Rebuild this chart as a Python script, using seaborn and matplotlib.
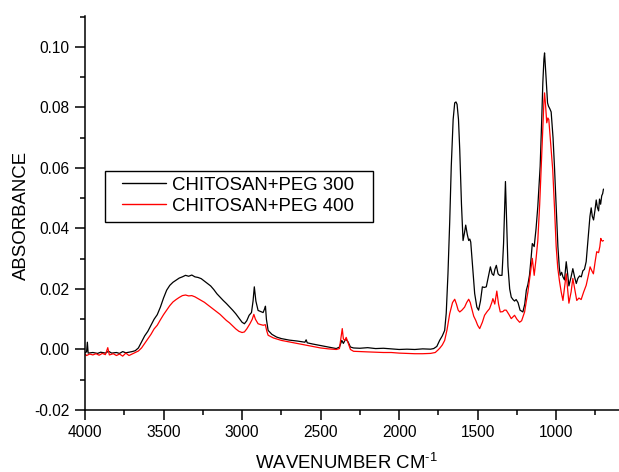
import matplotlib
matplotlib.use("Agg")
import matplotlib.pyplot as plt
import matplotlib.ticker as mticker
from matplotlib.patches import Rectangle
import seaborn as sns
import pandas as pd

# ---- data ----
wn_300 = [4000, 3990, 3985, 3980, 3950, 3920, 3900, 3870, 3850, 3830, 3800, 3780, 3760, 3740, 3720, 3700,
          3680, 3660, 3640, 3620, 3600, 3580, 3560, 3540, 3520, 3500, 3480, 3460, 3440, 3420, 3400, 3380,
          3360, 3340, 3320, 3300, 3280, 3260, 3240, 3220, 3200, 3180, 3160, 3140, 3120, 3100, 3080, 3060,
          3040, 3020, 3000, 2985, 2970, 2955, 2940, 2930, 2922, 2912, 2898, 2880, 2866, 2856, 2851, 2845,
          2834, 2810, 2780, 2750, 2700, 2650, 2600, 2592, 2585, 2550, 2500, 2450, 2400, 2380, 2365, 2355,
          2340, 2325, 2310, 2290, 2250, 2200, 2150, 2100, 2050, 2000, 1950, 1900, 1850, 1800, 1780, 1760,
          1742, 1725, 1710, 1700, 1689, 1678, 1668, 1656, 1646, 1638, 1631, 1622, 1614, 1603, 1593, 1584,
          1576, 1566, 1557, 1550, 1544, 1530, 1519, 1505, 1494, 1482, 1470, 1458, 1445, 1432, 1419, 1408,
          1398, 1390, 1381, 1370, 1360, 1345, 1335, 1323, 1315, 1307, 1296, 1286, 1275, 1265, 1255, 1243,
          1230, 1212, 1200, 1190, 1180, 1170, 1160, 1152, 1140, 1128, 1117, 1102, 1092, 1085, 1078, 1074,
          1068, 1064, 1055, 1049, 1040, 1032, 1020, 1011, 1000, 989, 980, 974, 965, 957, 947, 936,
          927, 919, 905, 894, 883, 872, 862, 851, 840, 830, 820, 809, 795, 785, 777, 770,
          762, 753, 745, 738, 730, 724, 717, 710, 704, 699]
abs_300 = [-0.0010, -0.0008, 0.0024, -0.0012, -0.0010, -0.0013, -0.0009, -0.0012, -0.0006, -0.0012, -0.0010, -0.0013, -0.0007, -0.0011, -0.0009, -0.0007,
           -0.0004, 0.0005, 0.0025, 0.0045, 0.0060, 0.0080, 0.0100, 0.0115, 0.0140, 0.0170, 0.0196, 0.0212, 0.0222, 0.0229, 0.0236, 0.0240,
           0.0245, 0.0242, 0.0246, 0.0240, 0.0238, 0.0234, 0.0226, 0.0218, 0.0210, 0.0198, 0.0184, 0.0173, 0.0162, 0.0152, 0.0141, 0.0130,
           0.0118, 0.0104, 0.0090, 0.0085, 0.0095, 0.0113, 0.0122, 0.0160, 0.0207, 0.0160, 0.0129, 0.0125, 0.0122, 0.0135, 0.0143, 0.0100,
           0.0063, 0.0050, 0.0041, 0.0036, 0.0031, 0.0028, 0.0024, 0.0032, 0.0022, 0.0018, 0.0013, 0.0008, 0.0003, 0.0008, 0.0030, 0.0020,
           0.0035, 0.0025, 0.0008, 0.0005, 0.0004, 0.0006, 0.0003, 0.0004, 0.0002, 0.0000, 0.0001, 0.0000, 0.0002, 0.0001, 0.0003, 0.0010,
           0.0030, 0.0045, 0.0063, 0.0120, 0.0250, 0.0420, 0.0605, 0.0760, 0.0815, 0.0818, 0.0810, 0.0760, 0.0660, 0.0480, 0.0360, 0.0385,
           0.0411, 0.0380, 0.0360, 0.0365, 0.0355, 0.0260, 0.0185, 0.0140, 0.0130, 0.0160, 0.0207, 0.0205, 0.0207, 0.0240, 0.0273, 0.0250,
           0.0245, 0.0265, 0.0278, 0.0250, 0.0245, 0.0245, 0.0350, 0.0555, 0.0420, 0.0275, 0.0200, 0.0173, 0.0165, 0.0160, 0.0165, 0.0155,
           0.0130, 0.0124, 0.0150, 0.0196, 0.0215, 0.0245, 0.0300, 0.0350, 0.0340, 0.0400, 0.0472, 0.0605, 0.0760, 0.0881, 0.0960, 0.0980,
           0.0930, 0.0895, 0.0815, 0.0804, 0.0795, 0.0785, 0.0700, 0.0605, 0.0470, 0.0340, 0.0270, 0.0245, 0.0255, 0.0240, 0.0230, 0.0290,
           0.0250, 0.0210, 0.0240, 0.0267, 0.0240, 0.0218, 0.0235, 0.0243, 0.0240, 0.0260, 0.0265, 0.0290, 0.0380, 0.0440, 0.0468, 0.0440,
           0.0428, 0.0460, 0.0494, 0.0470, 0.0458, 0.0497, 0.0480, 0.0508, 0.0515, 0.0530]

wn_400 = [4000, 3990, 3970, 3950, 3930, 3910, 3890, 3870, 3855, 3845, 3820, 3800, 3780, 3760, 3740, 3720,
          3700, 3680, 3660, 3640, 3620, 3600, 3580, 3560, 3540, 3520, 3500, 3480, 3460, 3440, 3420, 3400,
          3380, 3360, 3340, 3320, 3300, 3280, 3260, 3240, 3220, 3200, 3180, 3160, 3140, 3120, 3100, 3080,
          3060, 3040, 3020, 3000, 2985, 2970, 2950, 2935, 2925, 2915, 2898, 2880, 2865, 2852, 2842, 2834,
          2800, 2750, 2700, 2650, 2600, 2550, 2500, 2450, 2400, 2380, 2370, 2362, 2355, 2345, 2337, 2325,
          2310, 2290, 2250, 2200, 2150, 2100, 2050, 2000, 1950, 1900, 1850, 1800, 1770, 1753, 1740, 1725,
          1710, 1695, 1678, 1660, 1646, 1635, 1624, 1614, 1600, 1583, 1570, 1557, 1547, 1540, 1525, 1512,
          1500, 1487, 1470, 1456, 1440, 1424, 1410, 1403, 1391, 1378, 1367, 1356, 1340, 1330, 1318, 1300,
          1286, 1275, 1265, 1250, 1233, 1220, 1201, 1190, 1180, 1165, 1152, 1140, 1128, 1117, 1105, 1096,
          1085, 1078, 1074, 1068, 1060, 1053, 1047, 1035, 1022, 1010, 1000, 990, 979, 968, 957, 948,
          936, 927, 919, 905, 894, 882, 869, 855, 841, 825, 809, 795, 784, 773, 763, 752,
          742, 730, 722, 716, 710, 705, 699]
abs_400 = [-0.0015, -0.0020, -0.0015, -0.0018, -0.0014, -0.0019, -0.0013, -0.0017, 0.0006, -0.0018, -0.0014, -0.0020, -0.0015, -0.0022, -0.0012, -0.0020,
           -0.0015, -0.0010, -0.0005, 0.0005, 0.0020, 0.0035, 0.0050, 0.0068, 0.0080, 0.0098, 0.0115, 0.0130, 0.0145, 0.0157, 0.0165, 0.0172,
           0.0178, 0.0180, 0.0177, 0.0178, 0.0174, 0.0168, 0.0162, 0.0156, 0.0148, 0.0140, 0.0132, 0.0124, 0.0116, 0.0106, 0.0096, 0.0088,
           0.0078, 0.0068, 0.0060, 0.0056, 0.0058, 0.0068, 0.0085, 0.0100, 0.0116, 0.0100, 0.0085, 0.0082, 0.0080, 0.0082, 0.0060, 0.0047,
           0.0038, 0.0030, 0.0025, 0.0020, 0.0015, 0.0010, 0.0005, 0.0002, 0.0000, 0.0003, 0.0040, 0.0069, 0.0035, 0.0030, 0.0040, 0.0022,
           0.0000, -0.0006, -0.0007, -0.0008, -0.0009, -0.0010, -0.0010, -0.0012, -0.0013, -0.0014, -0.0014, -0.0013, -0.0010, -0.0002, 0.0005, 0.0015,
           0.0030, 0.0065, 0.0118, 0.0155, 0.0166, 0.0150, 0.0130, 0.0124, 0.0130, 0.0140, 0.0155, 0.0166, 0.0155, 0.0140, 0.0110, 0.0096,
           0.0080, 0.0069, 0.0090, 0.0113, 0.0125, 0.0135, 0.0155, 0.0168, 0.0150, 0.0193, 0.0150, 0.0124, 0.0125, 0.0130, 0.0130, 0.0115,
           0.0102, 0.0108, 0.0113, 0.0100, 0.0090, 0.0095, 0.0124, 0.0160, 0.0190, 0.0250, 0.0301, 0.0245, 0.0300, 0.0360, 0.0480, 0.0594,
           0.0740, 0.0820, 0.0848, 0.0810, 0.0749, 0.0765, 0.0760, 0.0680, 0.0594, 0.0460, 0.0340, 0.0270, 0.0226, 0.0190, 0.0162, 0.0200,
           0.0250, 0.0200, 0.0153, 0.0190, 0.0235, 0.0200, 0.0162, 0.0170, 0.0165, 0.0190, 0.0212, 0.0245, 0.0273, 0.0260, 0.0250, 0.0290,
           0.0323, 0.0320, 0.0340, 0.0367, 0.0360, 0.0358, 0.0360]

labels = ["CHITOSAN+PEG 300", "CHITOSAN+PEG 400"]
colors = ["black", "red"]

x_ticks = [4000, 3500, 3000, 2500, 2000, 1500, 1000]
y_ticks = [-0.02, 0.00, 0.02, 0.04, 0.06, 0.08, 0.10]

df = pd.concat([
    pd.DataFrame({"wavenumber": wn_300, "absorbance": abs_300, "sample": labels[0]}),
    pd.DataFrame({"wavenumber": wn_400, "absorbance": abs_400, "sample": labels[1]}),
], ignore_index=True)

# ---- style ----
sns.set_theme(style="ticks")
plt.rcParams["font.family"] = ["Liberation Sans", "DejaVu Sans"]
plt.rcParams["mathtext.fontset"] = "custom"
plt.rcParams["mathtext.rm"] = "Liberation Sans"
plt.rcParams["mathtext.it"] = "Liberation Sans:italic"
plt.rcParams["axes.unicode_minus"] = False
plt.rcParams["text.color"] = "black"

fig = plt.figure(figsize=(6.19, 4.72), dpi=100)
ax = fig.add_axes([85 / 619, 62 / 472, 534 / 619, 394 / 472])

sns.lineplot(data=df, x="wavenumber", y="absorbance", hue="sample",
             palette=dict(zip(labels, colors)), sort=False, estimator=None,
             linewidth=0.9, ax=ax, legend=True)

ax.set_xlim(4000, 600)
ax.set_ylim(-0.02, 0.1102)
ax.set_xticks(x_ticks)
ax.set_yticks(y_ticks)
ax.xaxis.set_minor_locator(mticker.MultipleLocator(250))
ax.yaxis.set_minor_locator(mticker.MultipleLocator(0.01))
ax.yaxis.set_major_formatter(mticker.FormatStrFormatter("%.2f"))
ax.xaxis.set_major_formatter(mticker.FormatStrFormatter("%d"))

sns.despine(ax=ax)
for s in ["left", "bottom"]:
    ax.spines[s].set_linewidth(1.1)
    ax.spines[s].set_color("black")

ax.tick_params(axis="both", which="major", direction="out", length=7, width=1.1,
               colors="black", labelsize=11.2, pad=4)
ax.tick_params(axis="both", which="minor", direction="out", length=3.5, width=1.1, colors="black")

ax.set_xlabel("WAVENUMBER CM$^{\\text{-1}}$", fontsize=13.4, color="black")
ax.set_ylabel("ABSORBANCE", fontsize=13.4, color="black")
ax.xaxis.set_label_coords(0.49, -0.108)
ax.yaxis.set_label_coords(-0.103, 0.495)

# legend
handles, lab = ax.get_legend_handles_labels()
if ax.get_legend():
    ax.get_legend().remove()
leg = ax.legend(handles, lab, loc="center left", bbox_to_anchor=((122 - 85) / 534, (410 - 195.8) / 394),
                frameon=False, borderpad=0, borderaxespad=0, handlelength=2.37, handletextpad=0.3,
                labelspacing=0.22, fontsize=13.4, labelcolor="black")
for h in leg.legend_handles:
    h.set_linewidth(1.0)
ax.add_patch(Rectangle(((105 - 85) / 534, (410 - 221.7) / 394), (372.7 - 105) / 534, 51 / 394,
                       transform=ax.transAxes, fill=False, edgecolor="black", linewidth=1.0,
                       clip_on=False, zorder=5))

fig.savefig("out.png", dpi=100)
